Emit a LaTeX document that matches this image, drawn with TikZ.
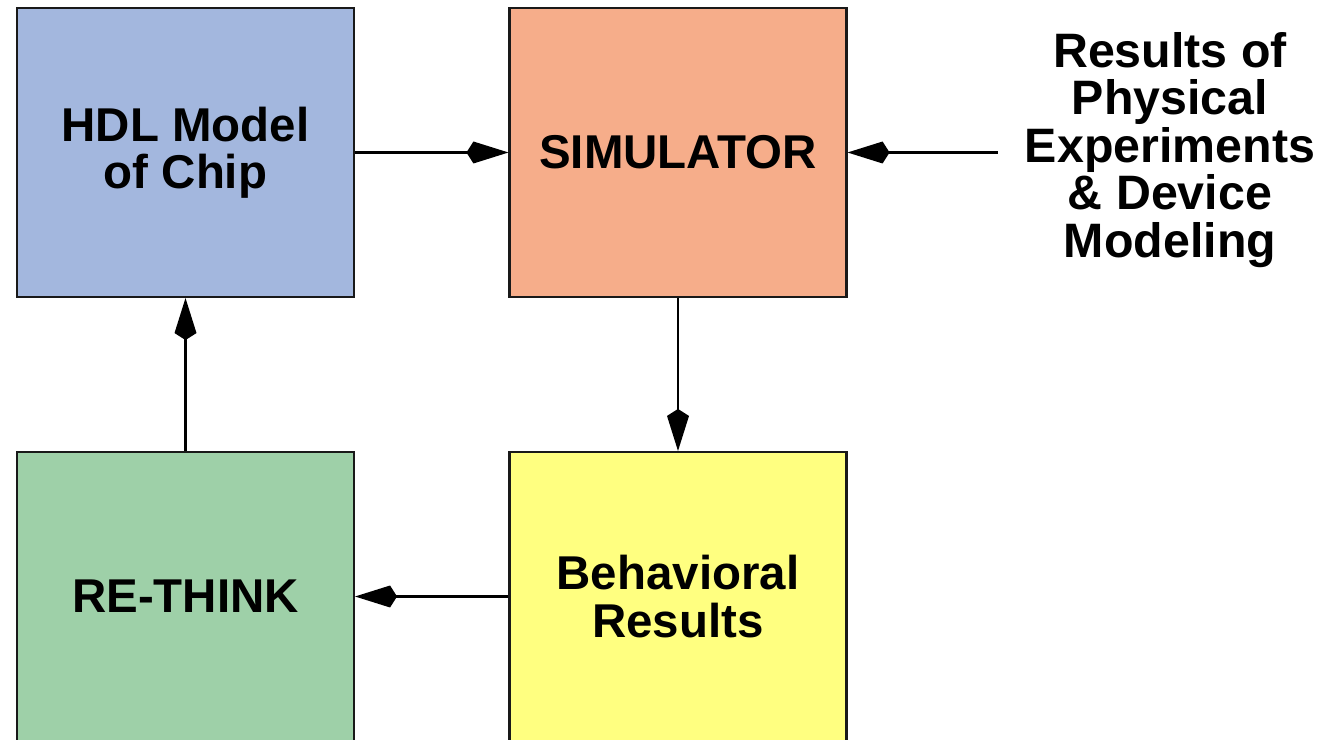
\documentclass[tikz,border=0pt]{standalone}
\usepackage{fontspec}
\setmainfont{Liberation Sans}
\usetikzlibrary{arrows.meta, positioning}

\definecolor{hdlblue}{RGB}{163,183,222}
\definecolor{simorange}{RGB}{246,173,138}
\definecolor{thinkgreen}{RGB}{158,208,168}
\definecolor{behyellow}{RGB}{255,255,128}

\begin{document}
\begin{tikzpicture}[>={Kite[length=0.84cm, width=0.44cm, inset=0.14cm]},
    block/.style={draw=black!90, line width=1.2pt, minimum width=6.74cm, minimum height=5.78cm,
        align=center, font=\bfseries\fontsize{27pt}{27pt}\selectfont},
    flow/.style={->, line width=1.2pt}]

    \useasboundingbox (0,0) rectangle (26.48,14.78);

    \node[block, fill=hdlblue] (HDL) at (3.71,11.73) {HDL Model\\of Chip};
    \node[block, fill=simorange] (Sim) at (13.56,11.73) {SIMULATOR};

    \node[block, fill=thinkgreen] (Think) at (3.71,2.85) {RE-THINK};
    \node[block, fill=behyellow] (Beh) at (13.56,2.85) {Behavioral\\Results};

    \node[align=center, inner xsep=0.54cm, font=\bfseries\fontsize{27.5pt}{27pt}\selectfont] (Phys) at (23.4,11.78)
        {Results of\\Physical\\Experiments\\\& Device\\Modeling};

    \draw[flow] (HDL) -- (Sim);
    \draw[flow] (Phys.west |- Sim) -- (Sim);
    \draw[flow] (Sim) -- (Beh);
    \draw[flow] (Beh) -- (Think);
    \draw[flow] (Think) -- (HDL);

\end{tikzpicture}
\end{document}
